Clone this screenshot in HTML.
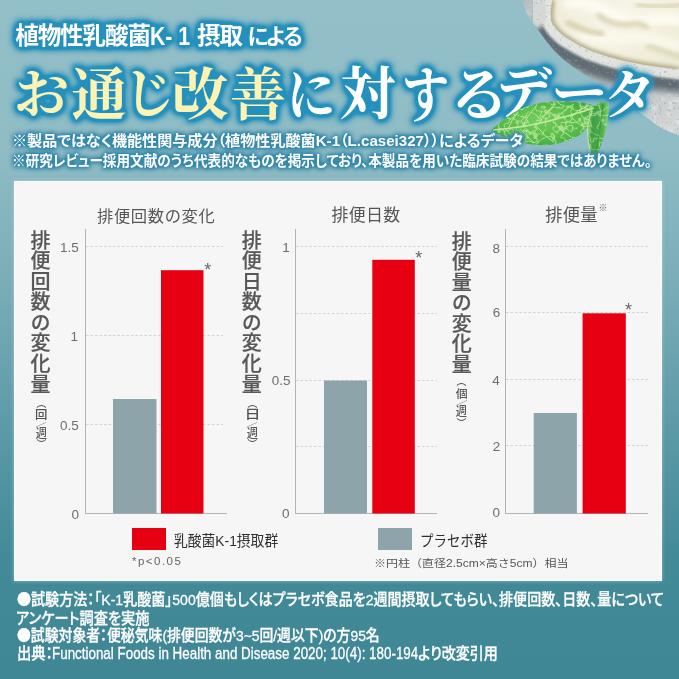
<!DOCTYPE html>
<html lang="ja">
<head>
<meta charset="utf-8">
<title>お通じ改善に対するデータ</title>
<style>
html,body{margin:0;padding:0;}
body{width:679px;height:679px;overflow:hidden;background:#3f8896;}
#root{position:relative;width:679px;height:679px;overflow:hidden;
  background:linear-gradient(180deg,#93bfc8 0px,#8fbcc5 150px,#7fb0ba 260px,#5e9ba8 420px,#428a98 560px,#3f8795 679px);
  font-family:"Liberation Sans","Noto Sans CJK JP","Noto Sans CJK SC",sans-serif;}
.t{position:absolute;white-space:nowrap;transform-origin:left top;line-height:1;}
.v{position:absolute;writing-mode:vertical-rl;white-space:nowrap;line-height:1;transform-origin:left top;}

.mincho{font-family:"Liberation Serif","Noto Serif CJK JP","Noto Serif CJK SC",serif;}
#panel{position:absolute;left:14px;top:181px;width:648px;height:400px;background:#f6f6f6;
  box-shadow:0 0 4px 0 rgba(205,228,233,.5);border:1px solid #fbfdfd;box-sizing:border-box;}
svg{position:absolute;left:0;top:0;}
.c{display:inline-block;position:relative;transform-origin:left top;white-space:nowrap;line-height:1;}
.bl{font-family:"Noto Sans CJK JP","Noto Sans CJK SC",sans-serif;}
.sk{-webkit-text-stroke:0.2px #585858;}
.skw{-webkit-text-stroke:0.3px #fff;}
.pa{font-feature-settings:"palt" 1;}
.grp{position:absolute;left:0;top:0;width:679px;height:200px;}
#g1{filter:url(#tglow);}
#g2{filter:url(#nglow);}
</style>
</head>
<body>
<div id="root">
<svg width="0" height="0" style="position:absolute"><defs>
<filter id="tglow" x="0" y="0" width="100%" height="100%" filterUnits="objectBoundingBox" color-interpolation-filters="sRGB">
<feMorphology in="SourceAlpha" operator="dilate" radius="1.5" result="d"/>
<feGaussianBlur in="d" stdDeviation="3.5" result="b"/>
<feComponentTransfer in="b" result="b2"><feFuncA type="linear" slope="2.4"/></feComponentTransfer>
<feFlood flood-color="#2690bd"/><feComposite in2="b2" operator="in" result="glow"/>
<feMerge><feMergeNode in="glow"/><feMergeNode in="SourceGraphic"/></feMerge>
</filter>
<filter id="nglow" x="0" y="0" width="100%" height="100%" filterUnits="objectBoundingBox" color-interpolation-filters="sRGB">
<feMorphology in="SourceAlpha" operator="dilate" radius="1" result="d"/>
<feGaussianBlur in="d" stdDeviation="2.6" result="b"/>
<feComponentTransfer in="b" result="b2"><feFuncA type="linear" slope="1.7"/></feComponentTransfer>
<feFlood flood-color="#388aab"/><feComposite in2="b2" operator="in" result="glow"/>
<feMerge><feMergeNode in="glow"/><feMergeNode in="SourceGraphic"/></feMerge>
</filter>
</defs></svg>
<svg id="deco" width="679" height="679" viewBox="0 0 679 679">
<defs>
<linearGradient id="bodyg" x1="0.15" y1="0" x2="0.7" y2="1">
<stop offset="0" stop-color="#b9c0c1"/><stop offset="0.4" stop-color="#aab2b5"/><stop offset="0.75" stop-color="#c3c8c9"/><stop offset="1" stop-color="#d2d5d5"/>
</linearGradient>
<linearGradient id="yog" x1="0" y1="0" x2="1" y2="0.6">
<stop offset="0" stop-color="#ece9d5"/><stop offset="0.45" stop-color="#f6f4e6"/><stop offset="1" stop-color="#eeebd6"/>
</linearGradient>
<filter id="b2" x="-20%" y="-20%" width="140%" height="140%"><feGaussianBlur stdDeviation="2"/></filter>
<filter id="b3" x="-20%" y="-20%" width="140%" height="140%"><feGaussianBlur stdDeviation="3"/></filter>
<filter id="b4" x="-20%" y="-20%" width="140%" height="140%"><feGaussianBlur stdDeviation="4.5"/></filter>
<filter id="b1" x="-20%" y="-20%" width="140%" height="140%"><feGaussianBlur stdDeviation="1"/></filter>
<filter id="speck" x="0" y="0" width="100%" height="100%">
<feTurbulence type="fractalNoise" baseFrequency="0.42" numOctaves="2" seed="11"/>
<feColorMatrix type="matrix" values="0 0 0 0 0.33  0 0 0 0 0.37  0 0 0 0 0.39  0 0 0 -12 4.3"/>
<feGaussianBlur stdDeviation="0.5"/>
</filter>
<filter id="speckw" x="0" y="0" width="100%" height="100%">
<feTurbulence type="fractalNoise" baseFrequency="0.12 0.22" numOctaves="2" seed="5"/>
<feColorMatrix type="matrix" values="0 0 0 0 0.9  0 0 0 0 0.91  0 0 0 0 0.9  0 0 0 -9 3.9"/>
<feGaussianBlur stdDeviation="1.2"/>
</filter>
<clipPath id="bowlclip"><path d="M522.5,0 L526,12 Q530,20 537,28.5 Q545,40 554,50.5 Q563,60 573,67 Q590,79 607,88 L646,117 Q655,124 663,129 L679,135.5 L679,0 Z"/></clipPath>
<clipPath id="yogclip"><path id="yp" d="M552,0 Q550,11 551,21 Q555,30 566,37.7 Q577,45 590,50.7 Q607,57 625,61.3 Q642,65 660,67.2 L679,69.5 L679,0 Z"/></clipPath>
</defs>
<g clip-path="url(#bowlclip)">
<rect x="515" y="0" width="170" height="140" fill="url(#bodyg)"/>
<rect x="515" y="0" width="170" height="140" filter="url(#speckw)" opacity="0.55"/>
<path d="M541,25 Q548,39 560,50 Q572,59 588,66 Q606,73 625,77 Q642,80.5 660,82.5 L684,85" fill="none" stroke="#5e6b72" stroke-width="16" filter="url(#b3)"/>
<path d="M552,-3 Q550,11 551,21 Q555,30 566,37.7 Q577,45 590,50.7 Q607,57 625,61.3 Q642,65 660,67.2 L682,70" fill="none" stroke="#e3e4e1" stroke-width="19" filter="url(#b1)"/>
<path d="M535,-3 Q537,12 544,24" fill="none" stroke="#d6d9d7" stroke-width="20" filter="url(#b2)"/>
<rect x="515" y="0" width="170" height="140" filter="url(#speck)" opacity="0.5"/>
</g>
<g clip-path="url(#yogclip)">
<rect x="545" y="0" width="140" height="75" fill="url(#yog)"/>
<path d="M552,0 Q550,11 551,21 Q555,30 566,37.7 Q577,45 590,50.7 Q607,57 625,61.3 Q642,65 660,67.2 L679,69.5" fill="none" stroke="#aaa27a" stroke-width="5" filter="url(#b2)"/>
<path d="M563,4 Q585,-2 606,12 Q626,26 655,20 Q670,17 684,22" fill="none" stroke="#fffef4" stroke-width="11" filter="url(#b4)"/>
<path d="M578,31 Q603,40 628,38 Q652,36 682,48" fill="none" stroke="#fdfbee" stroke-width="9" filter="url(#b4)"/>
<path d="M566,22 Q585,32 604,34" fill="none" stroke="#d3cda9" stroke-width="5" filter="url(#b2)"/>
<path d="M597,14 Q612,27 630,24 Q640,22 648,28" fill="none" stroke="#d9d3b2" stroke-width="5" filter="url(#b2)"/>
<path d="M636,4 Q658,10 682,4" fill="none" stroke="#ddd7b8" stroke-width="5" filter="url(#b2)"/>
<path d="M646,46 Q662,50 682,58" fill="none" stroke="#d9d3b2" stroke-width="4" filter="url(#b2)"/>
</g>
</svg>

<div id="panel"></div>
<svg id="chart" width="679" height="679" viewBox="0 0 679 679">
<g stroke="#d4d4d4" stroke-width="1" stroke-dasharray="2.5 2" fill="none">
<path d="M86 246.5H223M86 335.5H223M86 424.5H223"/>
<path d="M296 246.5H437M296 313.5H437M296 380.5H437M296 446.5H437"/>
<path d="M506 246.5H648M506 312.5H648M506 379.5H648M506 445.5H648"/>
</g>
<g stroke="#b4b4b4" stroke-width="1" fill="none">
<path d="M85.5 229V514M85 513.5H227"/>
<path d="M295.5 229V514M295 513.5H437"/>
<path d="M505.5 229V514M505 513.5H648"/>
</g>
<g fill="#8da5aa">
<rect x="113" y="399" width="43.5" height="114.5"/>
<rect x="324" y="380.5" width="43" height="133"/>
<rect x="533.7" y="413" width="43.2" height="100.5"/>
<rect x="378" y="528" width="34" height="22"/>
</g>
<g fill="#e60012">
<rect x="161" y="270.2" width="42.5" height="243.3"/>
<rect x="372.3" y="259.8" width="42.5" height="253.7"/>
<rect x="582.6" y="313.3" width="43.2" height="200.2"/>
<rect x="132" y="528" width="34" height="22"/>
</g>
</svg>

<div class="grp" id="g1">
<div class="t row" id="subrow" style="left:15.6px;top:22.8px;font-size:23.5px;"><span class="c" id="sub" style="left:-0.40px;top:0.00px;font-size:23.5px;font-weight:700;color:#fff;letter-spacing:-1.06px;">植物性乳酸菌</span><span class="c" id="subk" style="left:0.00px;top:1.20px;font-size:25px;font-weight:700;color:#fff;transform:scale(0.8502,1.0000);">K- 1</span><span class="c" id="subb" style="left:-0.50px;top:0.00px;font-size:23.5px;font-weight:700;color:#fff;letter-spacing:-1.00px;">摂取</span><span class="c" id="subc" style="left:5.00px;top:0.00px;font-size:21.5px;font-weight:700;color:#fff;letter-spacing:-3.75px;">による</span>
</div>
<div class="t mincho row" id="ttl" style="left:18.0px;top:70.0px;font-size:56px;"><span class="c" id="t0" style="left:-4.00px;top:-1.35px;font-size:56px;font-weight:700;color:#fcf4b4;transform:scale(0.9821,0.9214);">お</span><span class="c" id="t1" style="left:-2.80px;top:-3.30px;font-size:56px;font-weight:700;color:#fcf4b4;transform:scale(1.0018,1.0013);">通</span><span class="c" id="t2" style="left:-6.00px;top:-2.00px;font-size:56px;font-weight:700;color:#fcf4b4;transform:scale(0.9054,0.9586);">じ</span><span class="c" id="t3" style="left:-13.90px;top:-3.30px;font-size:56px;font-weight:700;color:#fcf4b4;transform:scale(1.0111,1.0010);">改</span><span class="c" id="t4" style="left:-12.20px;top:-3.10px;font-size:56px;font-weight:700;color:#fcf4b4;transform:scale(1.0003,1.0201);">善</span><span class="c" id="t5" style="left:-11.00px;top:-1.65px;font-size:56px;font-weight:700;color:#fff;transform:scale(0.8627,0.9809);">に</span><span class="c" id="t6" style="left:-13.60px;top:-3.00px;font-size:56px;font-weight:700;color:#fff;transform:scale(0.9919,1.0098);">対</span><span class="c" id="t7" style="left:-7.90px;top:-4.20px;font-size:56px;font-weight:700;color:#fff;transform:scale(0.8430,1.0799);">す</span><span class="c" id="t8" style="left:-17.00px;top:-3.00px;font-size:56px;font-weight:700;color:#fff;transform:scale(1.0884,1.0112);">る</span><span class="c" id="t9" style="left:-27.00px;top:-5.00px;font-size:56px;font-weight:700;color:#fff;transform:scale(1.0199,1.0001);">デ</span><span class="c" id="t10" style="left:-26.90px;top:-0.80px;font-size:56px;font-weight:700;color:#fff;transform:scale(1.0128,0.8866);">ー</span><span class="c" id="t11" style="left:-30.00px;top:-1.00px;font-size:56px;font-weight:700;color:#fff;transform:scale(0.9157,0.9501);">タ</span>
</div>
</div>
<svg id="leaf" width="679" height="679" viewBox="0 0 679 679">
<defs>
<radialGradient id="lg1" cx="0.5" cy="0.5" r="0.62" fx="0.45" fy="0.4">
<stop offset="0" stop-color="#74cd5c"/><stop offset="0.6" stop-color="#58bc4b"/><stop offset="1" stop-color="#3aa340"/>
</radialGradient>
<linearGradient id="lg2" x1="0" y1="0" x2="1" y2="0.2">
<stop offset="0" stop-color="#9bd97f"/><stop offset="0.3" stop-color="#3f9f45"/><stop offset="0.75" stop-color="#4fb04b"/><stop offset="1" stop-color="#8fd477"/>
</linearGradient>
<filter id="lb" x="-10%" y="-10%" width="120%" height="120%"><feGaussianBlur stdDeviation="0.5"/></filter>
<filter id="vein" x="0" y="0" width="100%" height="100%" color-interpolation-filters="sRGB">
<feTurbulence type="fractalNoise" baseFrequency="0.11 0.13" numOctaves="2" seed="4"/>
<feColorMatrix type="matrix" values="0 0 0 0 0.80  0 0 0 0 0.94  0 0 0 0 0.66  1 0 0 0 0"/>
<feComponentTransfer><feFuncA type="table" tableValues="0 0 0 0 0 0 0 0 0.2 1 0.2 0 0 0 0 0 0 0 0"/></feComponentTransfer>
<feGaussianBlur stdDeviation="0.4"/>
</filter>
<clipPath id="lc1"><path d="M491.3,130.2 Q497,124 504.7,118.9 Q512,113 521.2,108.6 Q531,104.5 541.9,102.8 Q552,101 562.5,101.3 Q573,101.5 583,102.8 Q590,104 596,106 L593,113 Q592,120 589.3,125 Q585,131 579,135.4 Q571,140 562.5,142.6 Q552,145.5 541.9,145.3 Q531,145 521.2,142.6 Q511,140 502.7,136.4 Q496,133.5 491.3,130.2 Z"/></clipPath>
<clipPath id="lc2"><path d="M601.6,101.3 Q606,101.5 609,104.4 Q609,115 606.8,125 Q605,135 601.6,143.6 Q599,152 595.5,160.1 L592.4,166.3 Q590.5,159 590.3,151.9 Q588,141 587.2,131.2 Q588,120 592.4,110.6 Q596,104 601.6,101.3 Z"/></clipPath>
</defs>
<g filter="url(#lb)">
<path d="M491.3,130.2 Q497,124 504.7,118.9 Q512,113 521.2,108.6 Q531,104.5 541.9,102.8 Q552,101 562.5,101.3 Q573,101.5 583,102.8 Q590,104 596,106 L593,113 Q592,120 589.3,125 Q585,131 579,135.4 Q571,140 562.5,142.6 Q552,145.5 541.9,145.3 Q531,145 521.2,142.6 Q511,140 502.7,136.4 Q496,133.5 491.3,130.2 Z" fill="url(#lg1)"/>
<g clip-path="url(#lc1)"><rect x="488" y="98" width="112" height="50" filter="url(#vein)" opacity="0.75"/></g>
<g fill="none" stroke="#c9eda4" stroke-width="0.9" opacity="0.95">
<path d="M493,130 Q520,128 545,122 Q570,116 594,108" stroke-width="1.6"/>
<path d="M508,129 Q511,121 518,112M522,127.5 Q527,116 536,106M538,124.5 Q545,112 556,103.5M555,120.5 Q563,110 574,104M572,115.5 Q579,109 588,106"/>
<path d="M506,129.5 Q510,134 516,139M520,128.5 Q526,136 534,142.5M536,125.5 Q544,136 554,142.5M553,121.5 Q561,131 571,137M570,116.5 Q577,123 584,127"/>
</g>
<path d="M601.6,101.3 Q606,101.5 609,104.4 Q609,115 606.8,125 Q605,135 601.6,143.6 Q599,152 595.5,160.1 L592.4,166.3 Q590.5,159 590.3,151.9 Q588,141 587.2,131.2 Q588,120 592.4,110.6 Q596,104 601.6,101.3 Z" fill="url(#lg2)"/>
<g clip-path="url(#lc2)"><rect x="585" y="100" width="26" height="68" filter="url(#vein)" opacity="0.6"/></g>
<path d="M603,104 Q600,135 593,163" fill="none" stroke="#2f8f3c" stroke-width="1.2" opacity="0.7"/>
<path d="M592.4,110.6 Q588,120 587.2,131.2 Q588,141 590.3,151.9" fill="none" stroke="#b9e89a" stroke-width="1.2" opacity="0.9"/>
</g>
</svg>
<div class="grp" id="g2">
<div class="t pa" id="n1" style="left:12.00px;top:132.50px;font-size:15px;font-weight:700;color:#fff;transform:scale(1.0065,1.0000);">※製品ではなく機能性関与成分（植物性乳酸菌K-1（L.casei327））によるデータ</div>
<div class="t pa" id="n2" style="left:11.50px;top:152.50px;font-size:15px;font-weight:700;color:#fff;transform:scale(0.9083,1.0000);">※研究レビュー採用文献のうち代表的なものを掲示しており、本製品を用いた臨床試験の結果ではありません。</div>
</div>
<div class="t" id="c1t" style="left:97.00px;top:207.50px;font-size:16.3px;font-weight:400;color:#565656;letter-spacing:0.63px;">排便回数の変化</div>
<div class="t" id="c2t" style="left:331.50px;top:206.60px;font-size:17px;font-weight:400;color:#565656;letter-spacing:0.27px;">排便日数</div>
<div class="t" id="c3t" style="left:545.20px;top:206.50px;font-size:17.3px;font-weight:400;color:#565656;letter-spacing:0.25px;">排便量</div>
<div class="t" id="c3s" style="left:598.55px;top:203.75px;font-size:9px;font-weight:400;color:#666;">※</div>
<div class="v sk" id="v1" style="left:29.00px;top:229.50px;font-size:20px;font-weight:500;color:#585858;letter-spacing:0.57px;">排便回数の変化量</div>
<div class="v sk" id="v2" style="left:240.30px;top:229.50px;font-size:20px;font-weight:500;color:#585858;letter-spacing:0.57px;">排便日数の変化量</div>
<div class="v sk" id="v3" style="left:450.30px;top:230.70px;font-size:20px;font-weight:500;color:#585858;letter-spacing:0.57px;">排便量の変化量</div>
<div class="v row" id="sl1" style="left:36.5px;top:404.3px;font-size:11.5px;"><span class="c" id="s1a" style="left:-1.50px;top:-7.30px;font-size:11.5px;font-weight:500;color:#555;transform:scale(0.8550,1.0000);">（</span><span class="c" id="s1b" style="left:-3.40px;top:-7.20px;font-size:11.5px;font-weight:500;color:#555;transform:scale(1.0789,1.0023);">回</span><span class="c" id="s1c" style="left:-2.90px;top:-5.65px;font-size:11.5px;font-weight:500;color:#555;transform:scale(0.9417,0.4356);">／</span><span class="c" id="s1d" style="left:-2.40px;top:-12.00px;font-size:11.5px;font-weight:500;color:#555;transform:scale(0.9808,1.0476);">週</span><span class="c" id="s1e" style="left:-1.50px;top:-11.00px;font-size:11.5px;font-weight:500;color:#555;transform:scale(0.8550,1.0000);">）</span>
</div>
<div class="v row" id="sl2" style="left:247.6px;top:404.3px;font-size:11.5px;"><span class="c" id="s2a" style="left:-1.30px;top:-7.30px;font-size:11.5px;font-weight:500;color:#555;transform:scale(0.8550,1.0000);">（</span><span class="c" id="s2b" style="left:-6.10px;top:-7.80px;font-size:11.5px;font-weight:500;color:#555;transform:scale(1.3960,1.0500);">日</span><span class="c" id="s2c" style="left:-2.50px;top:-5.65px;font-size:11.5px;font-weight:500;color:#555;transform:scale(0.9417,0.4356);">／</span><span class="c" id="s2d" style="left:-3.10px;top:-12.00px;font-size:11.5px;font-weight:500;color:#555;transform:scale(0.9808,1.0476);">週</span><span class="c" id="s2e" style="left:-1.30px;top:-11.00px;font-size:11.5px;font-weight:500;color:#555;transform:scale(0.8550,1.0000);">）</span>
</div>
<div class="v row" id="sl3" style="left:456.9px;top:383.1px;font-size:11.5px;"><span class="c" id="s3a" style="left:-2.10px;top:-8.00px;font-size:11.5px;font-weight:500;color:#555;transform:scale(0.8550,1.0000);">（</span><span class="c" id="s3b" style="left:-2.80px;top:-7.00px;font-size:11.5px;font-weight:500;color:#555;transform:scale(1.0360,1.0000);">個</span><span class="c" id="s3c" style="left:-1.90px;top:-5.65px;font-size:11.5px;font-weight:500;color:#555;transform:scale(0.9417,0.4356);">／</span><span class="c" id="s3d" style="left:-2.80px;top:-12.80px;font-size:11.5px;font-weight:500;color:#555;transform:scale(0.9808,1.0476);">週</span><span class="c" id="s3e" style="left:-2.10px;top:-11.20px;font-size:11.5px;font-weight:500;color:#555;transform:scale(0.8550,1.0000);">）</span>
</div>
<div class="t" id="l1" style="left:173.80px;top:533.20px;font-size:15px;font-weight:400;color:#2e2e2e;transform:scale(0.9190,1.0000);">乳酸菌K-1摂取群</div>
<div class="t" id="l2" style="left:420.40px;top:532.80px;font-size:15px;font-weight:400;color:#2e2e2e;transform:scale(0.8984,1.0000);">プラセボ群</div>
<div class="t lt" id="p1" style="left:132.00px;top:556.00px;font-size:11.5px;font-weight:400;color:#666;letter-spacing:1.48px;">*p&lt;0.05</div>
<div class="t" id="p2" style="left:373.50px;top:557.50px;font-size:10.5px;font-weight:400;color:#555;transform:scale(1.1444,1.0000);">※円柱（直径2.5cm×高さ5cm）相当</div>
<div class="t pa skw" id="f1" style="left:16.50px;top:591.30px;font-size:15.5px;font-weight:500;color:#fff;transform:scale(0.9060,1.0000);"><span class="bl">●</span>試験方法：「K-1乳酸菌」500億個もしくはプラセボ食品を2週間摂取してもらい、排便回数、日数、量について</div>
<div class="t pa skw" id="f2" style="left:15.50px;top:610.50px;font-size:15.5px;font-weight:500;color:#fff;transform:scale(0.9171,1.0000);">アンケート調査を実施</div>
<div class="t pa skw" id="f3" style="left:16.60px;top:627.40px;font-size:15.5px;font-weight:500;color:#fff;transform:scale(0.8932,1.0000);"><span class="bl">●</span>試験対象者：便秘気味(排便回数が3~5回/週以下)の方95名</div>
<div class="t row" id="f4" style="left:18.2px;top:644.6px;font-size:15.5px;"><span class="c pa skw" id="f4a" style="left:-1.20px;top:0.00px;font-size:15.5px;font-weight:500;color:#fff;transform:scale(0.9241,1.0000);">出典：</span><span class="c skw" id="f4b" style="left:-4.70px;top:0.00px;font-size:16.3px;font-weight:500;color:#fff;transform:scale(0.8225,1.0000);">Functional Foods in Health and Disease 2020; 10(4): 180-194</span><span class="c pa skw" id="f4c" style="left:-84.00px;top:0.00px;font-size:15.5px;font-weight:500;color:#fff;transform:scale(0.9064,1.0000);">より改変引用</span>
</div>
<div class="t lt" id="a1" style="left:60.00px;top:241.25px;font-size:13.5px;font-weight:300;color:#6e6e6e;">1.5</div>
<div class="t lt" id="a2" style="left:70.60px;top:330.25px;font-size:13.5px;font-weight:300;color:#6e6e6e;">1</div>
<div class="t lt" id="a3" style="left:60.00px;top:419.35px;font-size:13.5px;font-weight:300;color:#6e6e6e;">0.5</div>
<div class="t lt" id="a4" style="left:71.50px;top:507.75px;font-size:13.5px;font-weight:300;color:#6e6e6e;">0</div>
<div class="t lt" id="b1" style="left:282.20px;top:240.50px;font-size:13.5px;font-weight:300;color:#6e6e6e;">1</div>
<div class="t lt" id="b2" style="left:271.80px;top:373.80px;font-size:13.5px;font-weight:300;color:#6e6e6e;">0.5</div>
<div class="t lt" id="b3" style="left:282.10px;top:506.75px;font-size:13.5px;font-weight:300;color:#6e6e6e;">0</div>
<div class="t lt" id="d1" style="left:492.50px;top:241.75px;font-size:13.5px;font-weight:300;color:#6e6e6e;">8</div>
<div class="t lt" id="d2" style="left:492.70px;top:306.15px;font-size:13.5px;font-weight:300;color:#6e6e6e;">6</div>
<div class="t lt" id="d3" style="left:492.20px;top:374.25px;font-size:13.5px;font-weight:300;color:#6e6e6e;">4</div>
<div class="t lt" id="d4" style="left:492.70px;top:439.75px;font-size:13.5px;font-weight:300;color:#6e6e6e;">2</div>
<div class="t lt" id="d5" style="left:492.50px;top:506.25px;font-size:13.5px;font-weight:300;color:#6e6e6e;">0</div>
<div class="t lt" id="k1" style="left:204.35px;top:261.25px;font-size:18px;font-weight:400;color:#666;">*</div>
<div class="t lt" id="k2" style="left:415.35px;top:248.60px;font-size:18px;font-weight:400;color:#666;">*</div>
<div class="t lt" id="k3" style="left:625.10px;top:300.75px;font-size:18px;font-weight:400;color:#666;">*</div>
</div>
</body>
</html>
